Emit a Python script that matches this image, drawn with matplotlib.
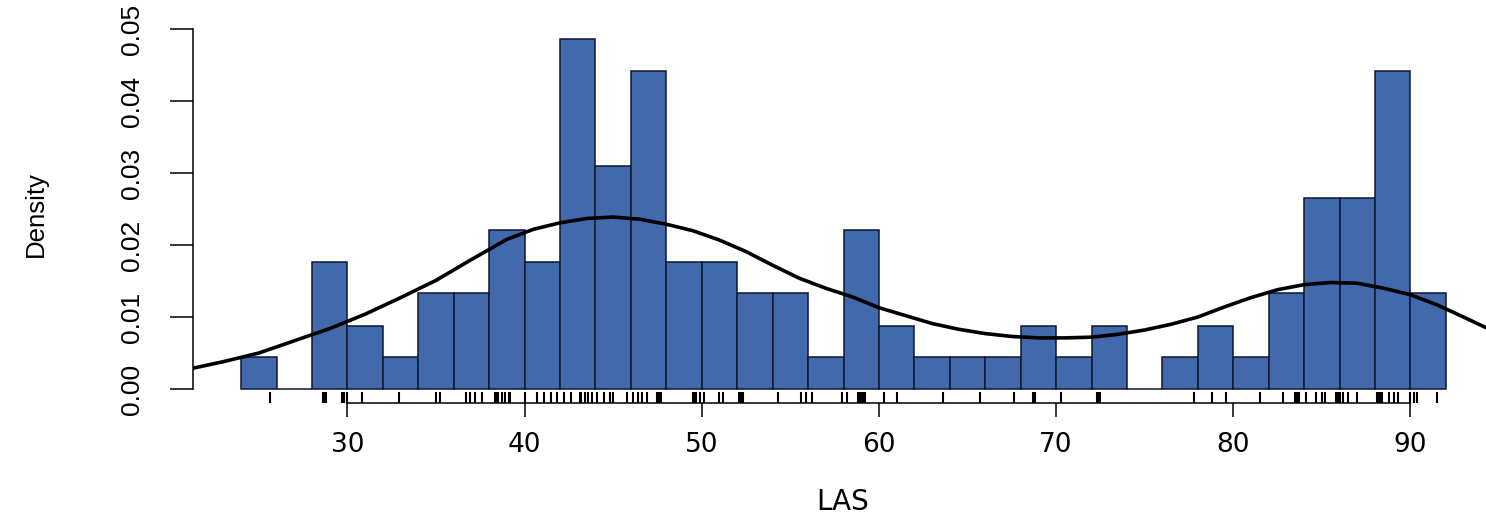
import matplotlib
matplotlib.use("Agg")
import matplotlib.pyplot as plt

# histogram of LAS (density scale), bins of width 2 from 24 to 92
bin_edges = list(range(24, 92, 2))
bin_density = [0.0044, 0.0, 0.0177, 0.0088, 0.0044, 0.0133, 0.0133, 0.0221,
               0.0177, 0.0487, 0.0310, 0.0442, 0.0177, 0.0177, 0.0133, 0.0133,
               0.0044, 0.0221, 0.0088, 0.0044, 0.0044, 0.0044, 0.0088, 0.0044,
               0.0088, 0.0, 0.0044, 0.0088, 0.0044, 0.0133, 0.0265, 0.0265,
               0.0442, 0.0133]

# density curve
curve_x = [21.3, 23.0, 25.0, 27.0, 29.0, 31.0, 33.0, 35.0, 37.0, 39.0, 40.5,
           42.0, 43.5, 45.0, 46.5, 48.0, 49.5, 51.0, 52.5, 54.0, 55.5, 57.0,
           58.5, 60.0, 61.5, 63.0, 64.5, 66.0, 67.5, 69.0, 70.5, 72.0, 73.5,
           75.0, 76.5, 78.0, 79.5, 81.0, 82.5, 84.0, 85.5, 87.0, 88.5, 90.0,
           91.5, 93.0, 94.72]
curve_y = [0.0029, 0.0038, 0.0050, 0.0067, 0.0084, 0.0104, 0.0127, 0.0151,
           0.0180, 0.0208, 0.0222, 0.0231, 0.0237, 0.0239, 0.0236, 0.0229,
           0.0220, 0.0207, 0.0191, 0.0172, 0.0154, 0.0140, 0.0128, 0.0113,
           0.0102, 0.0091, 0.0083, 0.0077, 0.0073, 0.0071, 0.0071, 0.0072,
           0.0076, 0.0082, 0.0090, 0.0100, 0.0114, 0.0127, 0.0138, 0.0145,
           0.0148, 0.0147, 0.0140, 0.0131, 0.0117, 0.0100, 0.0080]

# rug of observations
rug_x = [25.6, 28.6, 28.7, 28.8, 29.7, 29.8, 30.0, 30.8, 32.9, 35.0, 35.2,
         36.7, 36.9, 37.2, 37.6, 38.3, 38.4, 38.5, 38.7, 38.9, 39.1, 39.2,
         40.0, 40.7, 41.1, 41.5, 41.8, 42.2, 42.6, 43.1, 43.2, 43.4, 43.6,
         43.8, 44.1, 44.5, 44.8, 45.0, 45.8, 46.1, 46.4, 46.6, 46.9, 47.5,
         47.6, 47.7, 49.5, 49.6, 49.7, 49.9, 50.1, 51.0, 51.2, 52.1, 52.2,
         52.3, 54.3, 55.6, 55.9, 56.2, 57.9, 58.2, 58.8, 58.9, 59.0, 59.1,
         59.2, 60.3, 61.0, 63.6, 65.7, 67.6, 68.7, 68.8, 70.3, 72.3, 72.4,
         72.5, 77.8, 78.8, 79.6, 81.5, 82.8, 83.5, 83.6, 83.7, 84.1, 84.7,
         85.0, 85.2, 85.8, 85.9, 86.0, 86.2, 86.5, 87.0, 88.1, 88.2, 88.3,
         88.4, 88.8, 89.1, 89.3, 90.0, 90.2, 90.4, 91.5]

x_ticks = [30, 40, 50, 60, 70, 80, 90]
y_ticks = [0.00, 0.01, 0.02, 0.03, 0.04, 0.05]
y_ticklabels = ["0.00", "0.01", "0.02", "0.03", "0.04", "0.05"]

sans = ["Liberation Sans", "DejaVu Sans"]

W, H = 1486, 515
fig = plt.figure(figsize=(W / 100, H / 100), dpi=100)
ax = fig.add_axes([193 / W, 112 / H, 1301 / W, 378 / H])

ax.bar(bin_edges, bin_density, width=2, align="edge", color="#4169AB",
       edgecolor="#0f1830", linewidth=1.1, zorder=2)
ax.plot(curve_x, curve_y, color="black", linewidth=2.6, zorder=3,
        solid_joinstyle="round")
ax.vlines(rug_x, 0, 0.03, transform=ax.get_xaxis_transform(),
          color="black", linewidth=1.5, zorder=3)

ax.set_xlim(21.28, 94.72)
ax.set_ylim(-0.00195, 0.0506)

for side in ("top", "right"):
    ax.spines[side].set_visible(False)
ax.spines["left"].set_bounds(0, 0.05)
ax.spines["bottom"].set_bounds(30, 90)
ax.spines["left"].set_linewidth(1.1)
ax.spines["bottom"].set_linewidth(1.1)

ax.set_xticks(x_ticks)
ax.set_xticklabels([str(t) for t in x_ticks], family="DejaVu Sans", fontsize=19)
ax.tick_params(axis="x", length=10, width=1.1, pad=11)

ax.set_yticks(y_ticks)
ax.set_yticklabels(y_ticklabels, family=sans, fontsize=19,
                   rotation=90, va="center")
ax.tick_params(axis="y", length=16.5, width=1.1, pad=19)

ax.set_xlabel("LAS", family="DejaVu Sans", fontsize=20)
ax.xaxis.set_label_coords((843 - 193) / 1301, -0.225)
ax.set_ylabel("Density", family=sans, fontsize=18.5)
ax.yaxis.set_label_coords(-0.1115, 0.5)

fig.savefig("out.png", dpi=100)
plt.close(fig)
